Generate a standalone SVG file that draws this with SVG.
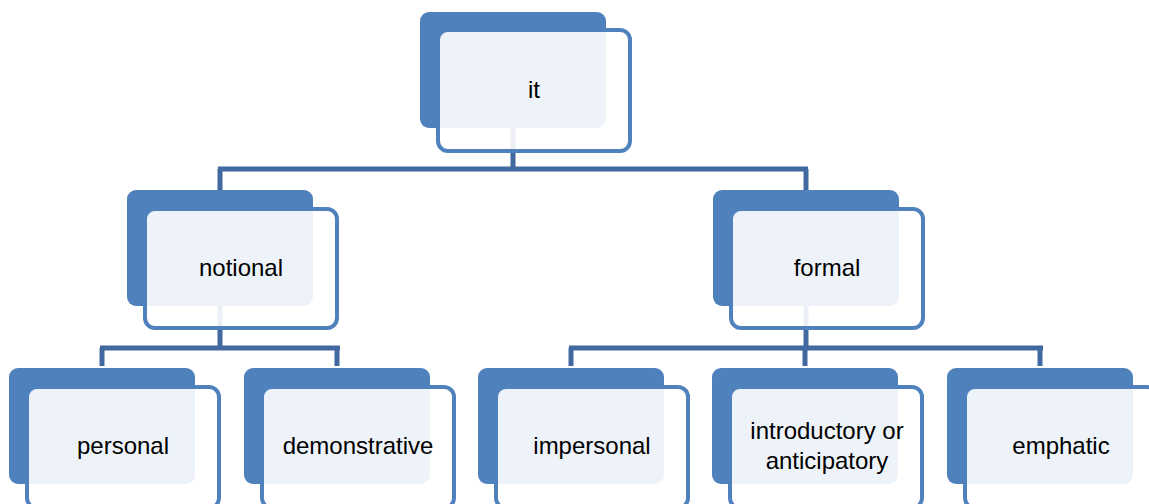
<svg xmlns="http://www.w3.org/2000/svg" width="1149" height="504" viewBox="0 0 1149 504">
<style>
.back{fill:#4F81BD;}
.front{fill:#FFFFFF;fill-opacity:0.9;stroke:#4F81BD;stroke-width:4;}
.conn{fill:none;stroke:#41699F;stroke-width:5;}
.lbl{font-family:"Liberation Sans",Arial,sans-serif;font-size:24px;fill:#000;text-anchor:middle;}
</style>
<rect width="1149" height="504" fill="#FFFFFF"/>
<g id="connectors">
<path class="conn" d="M513,128 V169 M218,169 H808 M220,169 V190 M806,169 V190"/>
<path class="conn" d="M220,306 V348 M100,348 H340 M102,348 V366 M337,348 V366"/>
<path class="conn" d="M806,306 V348 M569,348 H1043 M571,348 V366 M805,348 V366 M1040,348 V366"/>
</g>
<g id="node-it">
<rect class="back" x="420" y="12" width="186" height="116" rx="9"/>
<rect class="front" x="438" y="30" width="192" height="121" rx="10"/>
<text class="lbl" x="534" y="98">it</text>
</g>
<g id="node-notional">
<rect class="back" x="127" y="190" width="186" height="116" rx="9"/>
<rect class="front" x="145" y="209" width="192" height="119" rx="10"/>
<text class="lbl" x="241" y="276">notional</text>
</g>
<g id="node-formal">
<rect class="back" x="713" y="190" width="186" height="116" rx="9"/>
<rect class="front" x="731" y="209" width="192" height="119" rx="10"/>
<text class="lbl" x="827" y="276">formal</text>
</g>
<g id="node-personal">
<rect class="back" x="9" y="368" width="186" height="116" rx="9"/>
<rect class="front" x="27" y="387" width="192" height="121" rx="10"/>
<text class="lbl" x="123" y="454">personal</text>
</g>
<g id="node-demonstrative">
<rect class="back" x="244" y="368" width="186" height="116" rx="9"/>
<rect class="front" x="262" y="387" width="192" height="121" rx="10"/>
<text class="lbl" x="358" y="454">demonstrative</text>
</g>
<g id="node-impersonal">
<rect class="back" x="478" y="368" width="186" height="116" rx="9"/>
<rect class="front" x="496" y="387" width="192" height="121" rx="10"/>
<text class="lbl" x="592" y="454">impersonal</text>
</g>
<g id="node-introductory">
<rect class="back" x="712" y="368" width="186" height="116" rx="9"/>
<rect class="front" x="730" y="387" width="192" height="121" rx="10"/>
<text class="lbl" x="827" y="439">introductory or</text>
<text class="lbl" x="827" y="469">anticipatory</text>
</g>
<g id="node-emphatic">
<rect class="back" x="947" y="368" width="186" height="116" rx="9"/>
<rect class="front" x="965" y="387" width="192" height="121" rx="10"/>
<text class="lbl" x="1061" y="454">emphatic</text>
</g>
</svg>
